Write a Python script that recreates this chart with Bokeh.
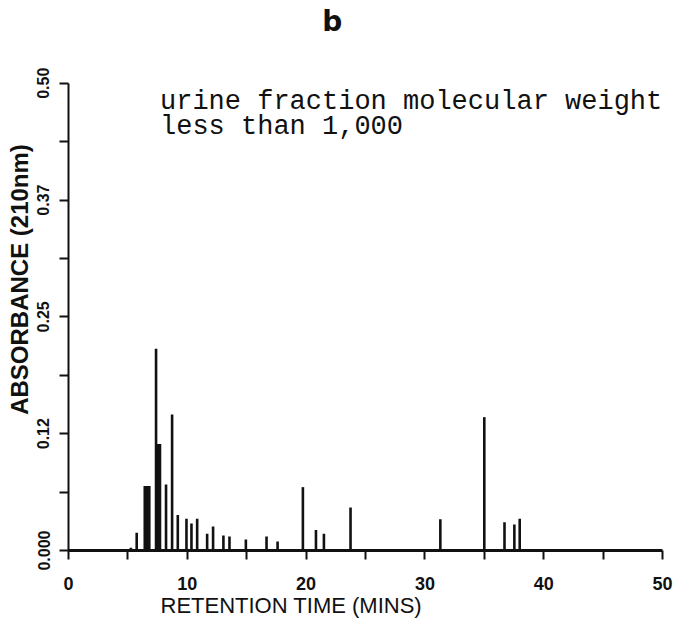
from bokeh.plotting import figure
from bokeh.models import Range1d, FixedTicker, Label, Title
from bokeh.embed import file_html
from bokeh.resources import INLINE

# ---- data ----
retention_min = [5.25, 5.74, 6.42, 6.6, 6.8, 7.37, 7.55, 7.7, 8.21, 8.72, 9.2,
                 9.93, 10.35, 10.83, 11.67, 12.17, 13.04, 13.55, 14.93, 16.67,
                 17.6, 19.73, 20.83, 21.5, 23.74, 31.3, 35.0, 36.7, 37.53, 37.98]
absorbance = [0.003, 0.019, 0.069, 0.069, 0.069, 0.216, 0.114, 0.114, 0.0707,
              0.1456, 0.038, 0.034, 0.029, 0.034, 0.018, 0.0257, 0.016, 0.015,
              0.0118, 0.015, 0.0096, 0.0678, 0.022, 0.018, 0.046, 0.0335,
              0.1427, 0.0303, 0.0278, 0.034]

x_ticks = [0, 5, 10, 15, 20, 25, 30, 35, 40, 45, 50]
x_tick_labels = ["0", "", "10", "", "20", "", "30", "", "40", "", "50"]
y_ticks = [0.0, 0.0625, 0.125, 0.1875, 0.25, 0.3125, 0.375, 0.4375, 0.5]
y_tick_labels = ["0.000", "", "0.12", "", "0.25", "", "0.37", "", "0.50"]

panel_title = "b"
note_lines = ["urine fraction molecular weight", "less than 1,000"]
x_title = "RETENTION TIME (MINS)"
y_title = "ABSORBANCE (210nm)"

# the y range runs a little past the 0.50 axis end so the panel letter fits
p = figure(width=676, height=620, output_backend="svg", toolbar_location=None,
           x_range=Range1d(0, 50), y_range=Range1d(0, 0.58),
           min_border_left=68, min_border_right=14, min_border_top=8,
           min_border_bottom=70)
p.title.visible = False
p.title.standoff = 0
p.outline_line_color = None
p.xgrid.visible = False
p.ygrid.visible = False
p.background_fill_color = "white"
p.border_fill_color = "white"

p.segment(x0=retention_min, y0=[0] * len(absorbance), x1=retention_min,
          y1=absorbance, line_color="#111111", line_width=2.6)

# x axis
xa = p.xaxis[0]
xa.ticker = FixedTicker(ticks=x_ticks)
xa.major_label_overrides = {t: s for t, s in zip(x_ticks, x_tick_labels)}
xa.minor_tick_line_color = None
xa.major_tick_in = 0
xa.major_tick_out = 9
xa.major_tick_line_width = 2
xa.axis_line_width = 3
xa.axis_line_color = "#111111"
xa.major_tick_line_color = "#111111"
xa.major_label_text_font = "Liberation Sans"
xa.major_label_text_font_style = "bold"
xa.major_label_text_font_size = "18px"
xa.major_label_text_color = "#111111"
xa.major_label_standoff = 17

# y axis
ya = p.yaxis[0]
ya.bounds = (y_ticks[0], y_ticks[-1])
ya.ticker = FixedTicker(ticks=y_ticks)
ya.major_label_overrides = {t: s for t, s in zip(y_ticks, y_tick_labels)}
ya.minor_tick_line_color = None
ya.major_tick_in = 0
ya.major_tick_out = 9
ya.major_tick_line_width = 2
ya.axis_line_width = 2
ya.axis_line_color = "#111111"
ya.major_tick_line_color = "#111111"
ya.major_label_orientation = "vertical"
ya.major_label_text_font = "Liberation Sans"
ya.major_label_text_font_style = "bold"
ya.major_label_text_font_size = "16px"
ya.major_label_text_color = "#111111"
ya.major_label_standoff = 10
ya.axis_label = y_title
ya.axis_label_text_font = "Liberation Sans"
ya.axis_label_text_font_style = "bold"
ya.axis_label_text_font_size = "24px"
ya.axis_label_text_color = "#111111"
ya.axis_label_standoff = 2

# panel letter "b"
p.add_layout(Label(x=22.2, y=0.566, text=panel_title, text_align="center",
                   text_baseline="middle", text_font="DejaVu Sans",
                   text_font_style="bold", text_font_size="28px",
                   text_color="#111111"))

# x axis title (offset to the left, as in the reference)
p.add_layout(Title(text=x_title, align="left", offset=92, standoff=-4,
                   text_font="Liberation Sans", text_font_style="normal",
                   text_font_size="22px", text_color="#111111"), "below")

for line, yv in zip(note_lines, [0.4797, 0.4529]):
    p.add_layout(Label(x=7.7, y=yv, text=line, text_align="left",
                       text_baseline="middle", text_font="Liberation Mono",
                       text_font_size="27px", text_color="#111111"))

open("out.html", "w").write(file_html(p, INLINE))
